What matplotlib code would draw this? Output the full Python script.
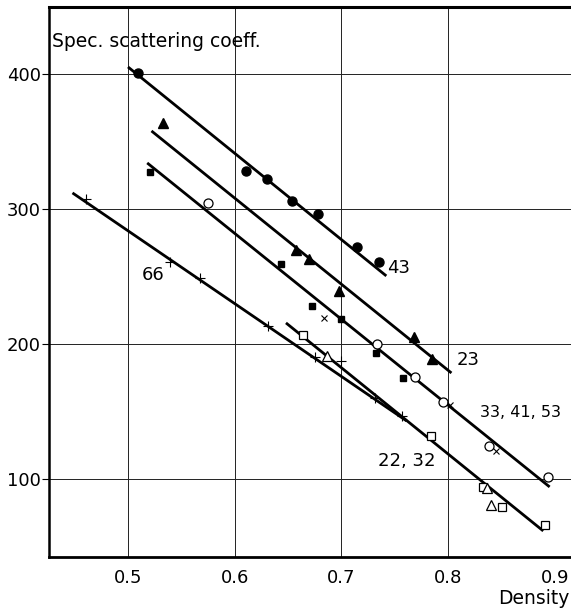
import matplotlib.pyplot as plt

# measured points, density vs specific scattering coefficient
circ_fill_x = [0.509, 0.611, 0.630, 0.654, 0.678, 0.715, 0.735]
circ_fill_y = [400.7, 328.1, 322.2, 305.9, 296.3, 271.9, 260.7]

tri_fill_x = [0.533, 0.657, 0.670, 0.698, 0.768, 0.785]
tri_fill_y = [363.7, 269.6, 263.0, 239.3, 205.2, 188.9]

sq_fill_x = [0.521, 0.643, 0.672, 0.700, 0.732, 0.758]
sq_fill_y = [327.4, 259.3, 228.1, 218.5, 193.3, 174.8]

circ_open_x = [0.575, 0.733, 0.769, 0.795, 0.838, 0.893]
circ_open_y = [304.4, 200.0, 175.6, 157.0, 124.4, 101.5]

cross_x = [0.684, 0.802, 0.845]
cross_y = [219.3, 154.8, 120.7]

plus_x = [0.461, 0.539, 0.567, 0.631, 0.675, 0.700, 0.731, 0.757]
plus_y = [307.4, 260.7, 248.9, 213.3, 190.4, 187.4, 160.0, 146.7]

sq_open_x = [0.664, 0.784, 0.833, 0.850, 0.891]
sq_open_y = [206.7, 131.9, 94.1, 79.3, 65.9]

tri_open_x = [0.686, 0.836, 0.840]
tri_open_y = [191.1, 93.3, 80.7]

# fitted lines (end points)
fit_lines = {
    '43': ([0.500, 0.742], [405.2, 250.4]),
    '23': ([0.522, 0.803], [357.8, 178.5]),
    '33, 41, 53': ([0.518, 0.895], [334.1, 94.1]),
    '66': ([0.448, 0.761], [311.9, 143.0]),
    '22, 32': ([0.648, 0.889], [215.6, 61.5]),
}
label_pos = {
    '43': (0.743, 256, 13),
    '23': (0.808, 188, 13),
    '33, 41, 53': (0.830, 149, 11.5),
    '66': (0.513, 251, 13),
    '22, 32': (0.734, 113, 13),
}

grid_x = [0.5, 0.6, 0.7, 0.8]
yticks = [100, 200, 300, 400]
xticks = [0.5, 0.6, 0.7, 0.8, 0.9]

fig = plt.figure(figsize=(5.71, 6.10), dpi=100)
ax = fig.add_axes([0.0858, 0.0869, 0.9142, 0.9016])
ax.set_xlim(0.426, 0.915)
ax.set_ylim(42.2, 449.6)

for gx in grid_x:
    ax.axvline(gx, color='#222222', lw=0.7, zorder=0)
for gy in yticks:
    ax.axhline(gy, color='#222222', lw=0.7, zorder=0)

for key, (lx, ly) in fit_lines.items():
    ax.plot(lx, ly, color='black', lw=2.0, solid_capstyle='butt')
    tx, ty, fs = label_pos[key]
    ax.text(tx, ty, key, fontsize=fs, va='center', ha='left')

ax.plot(circ_fill_x, circ_fill_y, 'o', color='black', ms=6.5, ls='none')
ax.plot(tri_fill_x, tri_fill_y, '^', color='black', ms=6.5, ls='none')
ax.plot(sq_fill_x, sq_fill_y, 's', color='black', ms=5, ls='none')
ax.plot(circ_open_x, circ_open_y, 'o', mfc='white', mec='black', mew=0.9, ms=6.5, ls='none')
ax.plot(cross_x, cross_y, 'x', color='black', mew=0.8, ms=4.5, ls='none')
ax.plot(plus_x, plus_y, '+', color='black', mew=0.8, ms=6.5, ls='none')
ax.plot(sq_open_x, sq_open_y, 's', mfc='white', mec='black', mew=0.9, ms=5.5, ls='none')
ax.plot(tri_open_x, tri_open_y, '^', mfc='white', mec='black', mew=0.9, ms=6.5, ls='none')

ax.set_xticks(xticks)
ax.set_xticklabels(['0.5', '0.6', '0.7', '0.8', '0.9'])
ax.set_yticks(yticks)
ax.tick_params(axis='x', length=0, pad=9, labelsize=13)
ax.tick_params(axis='y', length=5, width=0.8, pad=1, labelsize=13)

ax.spines['right'].set_visible(False)
ax.spines['left'].set_linewidth(1.8)
ax.spines['bottom'].set_linewidth(2.0)
ax.spines['top'].set_linewidth(2.2)

ax.text(0.429, 424, 'Spec. scattering coeff.', fontsize=13.5, va='center', ha='left')
fig.text(0.997, 0.019, 'Density', fontsize=13.5, ha='right', va='center')

fig.savefig('out.png', dpi=100)
